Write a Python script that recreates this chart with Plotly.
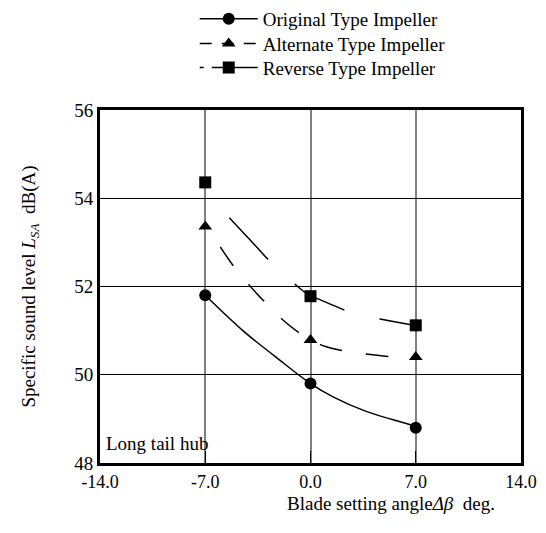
import plotly.graph_objects as go

# measured points
angles = [-7.0, 0.0, 7.0]
original_lsa = [51.8, 49.8, 48.8]
alternate_lsa = [53.36, 50.79, 50.4]
reverse_lsa = [54.36, 51.78, 51.12]

# fitted curves
original_fit_x = [-7.0, -4.5, -2.3, 0.0, 1.5, 3.7, 5.5, 7.0]
original_fit_y = [51.8, 51.0, 50.4, 49.8, 49.5, 49.17, 48.98, 48.83]
alternate_fit_x = [-6.0, -5.2, -4.05, -2.9, -1.7, -0.4, 1.0, 2.4, 3.7, 5.0, 7.0]
alternate_fit_y = [52.9, 52.5, 52.02, 51.6, 51.2, 50.87, 50.64, 50.53, 50.47, 50.42, 50.4]
reverse_fit_x = [-5.4, -4.0, -2.6, 0.0, 0.5, 1.6, 2.7, 4.8, 6.6, 7.0]
reverse_fit_y = [53.56, 53.05, 52.54, 51.78, 51.72, 51.56, 51.41, 51.25, 51.14, 51.12]

x_ticks = [-14.0, -7.0, 0.0, 7.0, 14.0]
x_tick_labels = ["-14.0", "-7.0", "0.0", "7.0", "14.0"]
y_ticks = [48, 50, 52, 54, 56]

names = ["Original Type Impeller", "Alternate Type Impeller", "Reverse Type Impeller"]
symbols = ["circle", "triangle-up", "square"]
dashes = ["solid", "23px,24px", "57px,36px"]

FONT = "Times New Roman, Liberation Serif, serif"
fig = go.Figure()

fits = [(original_fit_x, original_fit_y), (alternate_fit_x, alternate_fit_y), (reverse_fit_x, reverse_fit_y)]
vals = [original_lsa, alternate_lsa, reverse_lsa]

for (fx, fy), d in zip(fits, dashes):
    fig.add_trace(go.Scatter(x=fx, y=fy, mode="lines", showlegend=False,
                             line=dict(color="black", width=1.5, dash=d, shape="spline", smoothing=1.0),
                             hoverinfo="skip"))
for v, s in zip(vals, symbols):
    fig.add_trace(go.Scatter(x=angles, y=v, mode="markers", showlegend=False,
                             marker=dict(symbol=s, size=12, color="black")))
legend_dashes = ["solid", "12px,10px", "4px,8px,60px"]
legend_ids = ["legend", "legend2", "legend3"]
for n, s, d, lid in zip(names, symbols, legend_dashes, legend_ids):
    fig.add_trace(go.Scatter(x=[None], y=[None], mode="lines+markers", name=n, legend=lid,
                             marker=dict(symbol=s, size=12, color="black"),
                             line=dict(color="black", width=1.5, dash=d)))

row_y = [1.258, 1.188, 1.120]
leg_common = dict(x=0.225, xanchor="left", yanchor="middle", bgcolor="rgba(0,0,0,0)",
                  font=dict(family=FONT, size=19), itemwidth=58)

fig.update_layout(
    width=546, height=533,
    margin=dict(l=100, r=25, t=110, b=70, autoexpand=False),
    paper_bgcolor="white", plot_bgcolor="white",
    font=dict(family=FONT, size=19, color="black"),
    legend=dict(y=row_y[0], **leg_common),
    legend2=dict(y=row_y[1], **leg_common),
    legend3=dict(y=row_y[2], **leg_common),
    xaxis=dict(range=[-14, 14], tickvals=x_ticks, ticktext=x_tick_labels,
               showgrid=True, gridcolor="#808080", gridwidth=1.5, zeroline=False,
               showline=True, linecolor="black", linewidth=3, mirror=True,
               ticks="inside", ticklen=12, tickcolor="black", tickwidth=1,
               tickfont=dict(family=FONT, size=18)),
    yaxis=dict(range=[48, 56], tickvals=y_ticks,
               showgrid=True, gridcolor="black", gridwidth=1, zeroline=False,
               showline=True, linecolor="black", linewidth=3, mirror=True,
               ticks="inside", ticklen=12, tickcolor="black", tickwidth=1,
               tickfont=dict(family=FONT, size=19),
               title=dict(text="Specific sound level <i>L</i><sub><i>SA</i></sub>  dB(A)",
                          font=dict(family=FONT, size=19), standoff=34)),
)

fig.add_annotation(text="Blade setting angle<i>Δβ</i>  deg.", xref="paper", yref="paper",
                   x=0.943, y=-0.078, xanchor="right", yanchor="top", showarrow=False,
                   font=dict(family=FONT, size=19))
fig.add_annotation(text="Long tail hub", xref="paper", yref="paper",
                   x=0.01, y=0.02, xanchor="left", yanchor="bottom", showarrow=False,
                   font=dict(family=FONT, size=19))

fig.write_html("out.html")
